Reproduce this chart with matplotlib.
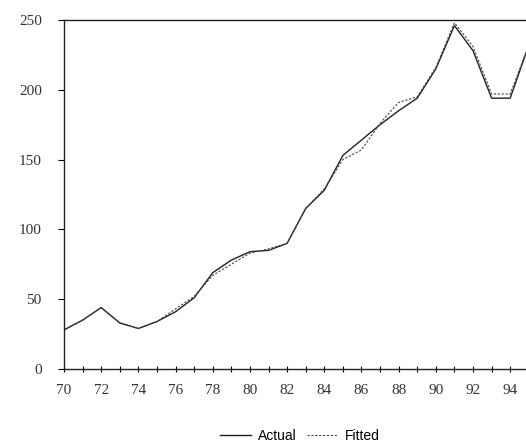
import numpy as np
import matplotlib.pyplot as plt

years = [70, 71, 72, 73, 74, 75, 76, 77, 78, 79, 80, 81, 82, 83, 84,
         85, 86, 87, 88, 89, 90, 91, 92, 93, 94, 95]
actual = [28, 35, 44, 33, 29, 34, 41, 51, 69, 78, 84, 85, 90, 115, 128,
          153, 164, 175, 185, 194, 215, 246, 228, 194, 194, 232]
fitted = [28, 35, 44, 33, 29, 34, 43, 52, 67, 75, 83, 86, 90, 115, 129,
          150, 157, 176, 191, 195, 216, 248, 231, 197, 197, 232]

xticks = list(range(70, 95, 2))
yticks = [0, 50, 100, 150, 200, 250]

fig = plt.figure(figsize=(5.26, 4.45), dpi=100)
ax = fig.add_axes([64 / 526, 1 - 369 / 445, 1 - 64 / 526, 349 / 445])

ax.plot(years, actual, color="#222222", lw=1.0, label="Actual")
ax.plot(years, fitted, color="#444444", lw=0.8, ls=(0, (2, 1.5)), label="Fitted")

ax.set_xlim(70, 94.85)
ax.set_ylim(0, 250)
ax.set_xticks(xticks)
ax.set_xticks(range(70, 95), minor=True)
ax.set_yticks(yticks)
ax.set_xticklabels([str(t) for t in xticks], family="Liberation Serif", fontsize=11, color="#333333")
ax.set_yticklabels([str(t) for t in yticks], family="Liberation Serif", fontsize=11, color="#333333")
ax.tick_params(axis="x", which="both", direction="inout", length=5, width=0.8, pad=8)
ax.tick_params(axis="y", direction="out", length=4, width=0.8, pad=12)

ax.spines["right"].set_visible(False)
for s in ["left", "top", "bottom"]:
    ax.spines[s].set_linewidth(1.0)
    ax.spines[s].set_color("#222222")

fig.legend(loc="center", bbox_to_anchor=(300 / 526, 1 - 436 / 445), ncol=2,
           frameon=False, prop={"family": "Liberation Sans", "size": 10},
           handlelength=2.2, columnspacing=0.8, handletextpad=0.5)

fig.savefig("out.png", dpi=100)
